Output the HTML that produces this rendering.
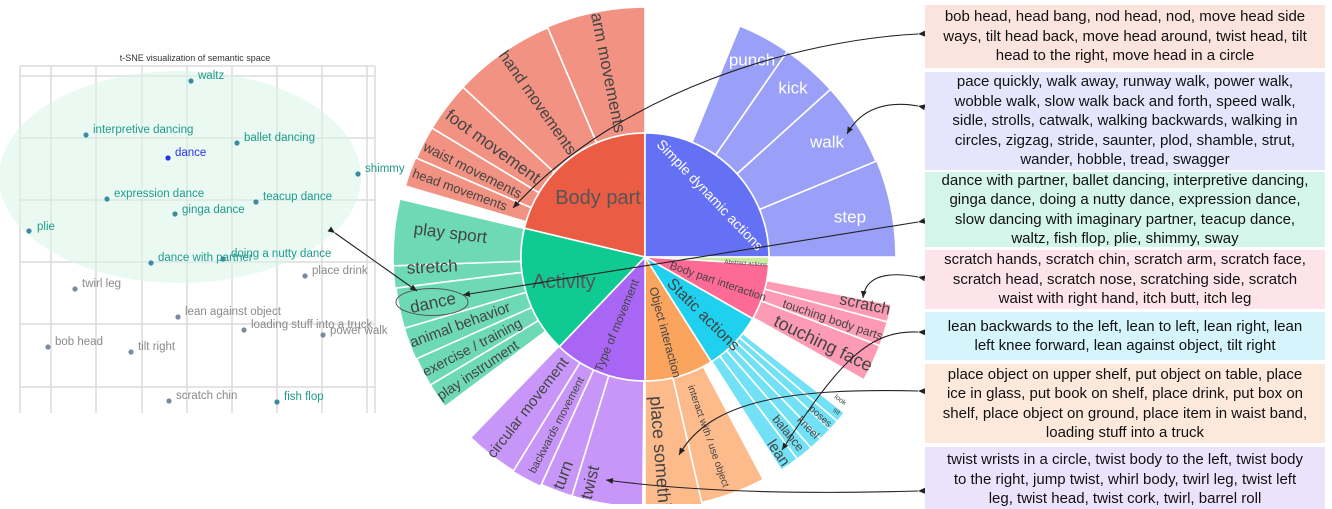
<!DOCTYPE html>
<html><head><meta charset="utf-8">
<style>
html,body{margin:0;padding:0;background:#fff;}
body{width:1332px;height:504px;position:relative;overflow:hidden;font-family:"Liberation Sans",sans-serif;}
.box{position:absolute;left:925px;width:400px;text-align:center;font-size:15px;line-height:19.5px;color:#111;display:flex;align-items:center;justify-content:center;}
svg{position:absolute;left:0;top:0;}
</style></head><body>
<svg width="1332" height="504" viewBox="0 0 1332 504" font-family="Liberation Sans, sans-serif">
<defs>
<marker id="ah" markerWidth="8" markerHeight="8" refX="7" refY="4" orient="auto" markerUnits="userSpaceOnUse">
<path d="M0,1 L7,4 L0,7 z" fill="#222"/></marker>
</defs>
<!-- scatter -->
<text x="195" y="61" font-size="9" fill="#333" text-anchor="middle">t-SNE visualization of semantic space</text>
<g stroke="#dcdcdc" stroke-width="1.5">
<line x1="20" y1="66" x2="375" y2="66"/>
<line x1="20" y1="66" x2="20" y2="413"/>
<line x1="375" y1="66" x2="375" y2="413"/>
<line x1="51" y1="66" x2="51" y2="413"/><line x1="96" y1="66" x2="96" y2="413"/>
<line x1="142" y1="66" x2="142" y2="413"/><line x1="187" y1="66" x2="187" y2="413"/>
<line x1="232" y1="66" x2="232" y2="413"/><line x1="277" y1="66" x2="277" y2="413"/>
<line x1="322" y1="66" x2="322" y2="413"/><line x1="367" y1="66" x2="367" y2="413"/>
<line x1="20" y1="76" x2="375" y2="76"/><line x1="20" y1="138" x2="375" y2="138"/>
<line x1="20" y1="200" x2="375" y2="200"/><line x1="20" y1="262" x2="375" y2="262"/>
<line x1="20" y1="324" x2="375" y2="324"/><line x1="20" y1="387" x2="375" y2="387"/>
</g>
<ellipse cx="180" cy="177" rx="181" ry="106" fill="#d8f5ea" opacity="0.55"/>
<g font-size="11.5" fill="#1f9a8c">
<circle cx="191" cy="81" r="2.6" fill="#3a8c9e"/><text x="198" y="79">waltz</text>
<circle cx="86" cy="135" r="2.6" fill="#3a8c9e"/><text x="93" y="133">interpretive dancing</text>
<circle cx="237" cy="143" r="2.6" fill="#3a8c9e"/><text x="244" y="141">ballet dancing</text>
<circle cx="168" cy="158" r="2.6" fill="#2233ee"/><text x="175" y="156" fill="#2a2ff0">dance</text>
<circle cx="358" cy="174" r="2.6" fill="#3a8c9e"/><text x="365" y="172">shimmy</text>
<circle cx="107" cy="199" r="2.6" fill="#3a8c9e"/><text x="114" y="197">expression dance</text>
<circle cx="256" cy="202" r="2.6" fill="#3a8c9e"/><text x="263" y="200">teacup dance</text>
<circle cx="175" cy="214" r="2.6" fill="#3a8c9e"/><text x="182" y="213">ginga dance</text>
<circle cx="29" cy="231" r="2.6" fill="#3a8c9e"/><text x="37" y="230">plie</text>
<circle cx="151" cy="263" r="2.6" fill="#3a8c9e"/><text x="158" y="261">dance with partner</text>
<circle cx="223" cy="259" r="2.6" fill="#3a8c9e"/><text x="231" y="257">doing a nutty dance</text>
<circle cx="277" cy="402" r="2.6" fill="#3a8c9e"/><text x="284" y="400">fish flop</text>
</g>
<g font-size="11.5" fill="#8a8a8a">
<circle cx="305" cy="276" r="2.6" fill="#7a8aa3"/><text x="312" y="274">place drink</text>
<circle cx="75" cy="289" r="2.6" fill="#7a8aa3"/><text x="82" y="287">twirl leg</text>
<circle cx="178" cy="317" r="2.6" fill="#7a8aa3"/><text x="185" y="315">lean against object</text>
<circle cx="244" cy="330" r="2.6" fill="#7a8aa3"/><text x="251" y="328">loading stuff into a truck</text>
<circle cx="323" cy="335" r="2.6" fill="#7a8aa3"/><text x="330" y="334">power walk</text>
<circle cx="48" cy="347" r="2.6" fill="#7a8aa3"/><text x="55" y="345">bob head</text>
<circle cx="131" cy="352" r="2.6" fill="#7a8aa3"/><text x="138" y="350">tilt right</text>
<circle cx="169" cy="401" r="2.6" fill="#7a8aa3"/><text x="176" y="399">scratch chin</text>
</g>
<rect x="378" y="0" width="10" height="504" fill="#fff" opacity="0"/>
<g id="wedges"></g>
<!-- labels -->
<g fill="#444">
<g transform="translate(645,257)">
<text transform="rotate(258.7) translate(188,0) rotate(180)" font-size="17" text-anchor="middle" dominant-baseline="central">arm movements</text>
<text transform="rotate(235) translate(188,0) rotate(180)" font-size="16" text-anchor="middle" dominant-baseline="central">hand movements</text>
<text transform="rotate(216) translate(188,0) rotate(180)" font-size="17" text-anchor="middle" dominant-baseline="central">foot movement</text>
<text transform="rotate(206.8) translate(193,0) rotate(180)" font-size="14" text-anchor="middle" dominant-baseline="central">waist movements</text>
<text transform="rotate(200) translate(197,0) rotate(180)" font-size="13" text-anchor="middle" dominant-baseline="central">head movements</text>
<text transform="rotate(187) translate(196,0) rotate(180)" font-size="17" text-anchor="middle" dominant-baseline="central">play sport</text>
<text transform="rotate(177.3) translate(213,0) rotate(180)" font-size="17" text-anchor="middle" dominant-baseline="central">stretch</text>
<text transform="rotate(167.8) translate(217,0) rotate(180)" font-size="17" text-anchor="middle" dominant-baseline="central">dance</text>
<text transform="rotate(159.8) translate(197,0) rotate(180)" font-size="15" text-anchor="middle" dominant-baseline="central">animal behavior</text>
<text transform="rotate(152.5) translate(195,0) rotate(180)" font-size="14" text-anchor="middle" dominant-baseline="central">exercise / training</text>
<text transform="rotate(146) translate(202,0) rotate(180)" font-size="14" text-anchor="middle" dominant-baseline="central">play instrument</text>
<text transform="rotate(127.8) translate(191,0) rotate(180)" font-size="15" text-anchor="middle" dominant-baseline="central">circular movement</text>
<text transform="rotate(117.6) translate(190,0) rotate(180)" font-size="11" text-anchor="middle" dominant-baseline="central">backwards movement</text>
<text transform="rotate(110.6) translate(233,0) rotate(180)" font-size="17" text-anchor="middle" dominant-baseline="central">turn</text>
<text transform="rotate(103.7) translate(232,0) rotate(180)" font-size="17" text-anchor="middle" dominant-baseline="central">twist</text>
<text transform="rotate(85.5) translate(205,0)" font-size="18" text-anchor="middle" dominant-baseline="central">place something</text>
<text transform="rotate(70.7) translate(190,0)" font-size="10" text-anchor="middle" dominant-baseline="central">interact with / use object</text>
<text transform="rotate(36.3) translate(242,0)" font-size="7" text-anchor="middle" dominant-baseline="central">look</text>
<text transform="rotate(39) translate(246,0)" font-size="7" text-anchor="middle" dominant-baseline="central">sit</text>
<text transform="rotate(42.4) translate(237,0)" font-size="10" text-anchor="middle" dominant-baseline="central">poses</text>
<text transform="rotate(46.4) translate(236,0)" font-size="11" text-anchor="middle" dominant-baseline="central">kneel</text>
<text transform="rotate(50.9) translate(227,0)" font-size="12" text-anchor="middle" dominant-baseline="central">balance</text>
<text transform="rotate(55.8) translate(237,0)" font-size="15" text-anchor="middle" dominant-baseline="central">lean</text>
<text transform="rotate(12.3) translate(225,0)" font-size="16" text-anchor="middle" dominant-baseline="central">scratch</text>
<text transform="rotate(18.5) translate(198,0)" font-size="12" text-anchor="middle" dominant-baseline="central">touching body parts</text>
<text transform="rotate(25.8) translate(198,0)" font-size="18" text-anchor="middle" dominant-baseline="central">touching face</text>
<text transform="rotate(112.4) translate(74,0) rotate(180)" font-size="12" text-anchor="middle" dominant-baseline="central">Type of movement</text>
<text transform="rotate(75) translate(78,0)" font-size="12" text-anchor="middle" dominant-baseline="central">Object interaction</text>
<text transform="rotate(45) translate(82,0)" font-size="16" text-anchor="middle" dominant-baseline="central">Static actions</text>
<text transform="rotate(18.9) translate(77,0)" font-size="11" text-anchor="middle" dominant-baseline="central">Body part interaction</text>
<text transform="rotate(4) translate(101,0)" font-size="6" text-anchor="middle" dominant-baseline="central">Abstract actions</text>
<text transform="rotate(-43.6) translate(90,0) rotate(90)" font-size="14" fill="#fff" text-anchor="middle" dominant-baseline="central">Simple dynamic actions</text>
</g>
<text x="598" y="198" font-size="20" text-anchor="middle" dominant-baseline="central" fill="#555">Body part</text>
<text x="564" y="282" font-size="20" text-anchor="middle" dominant-baseline="central" fill="#555">Activity</text>
<g fill="#fff" font-size="17" text-anchor="middle" dominant-baseline="central">
<text x="752" y="60">punch</text><text x="793" y="88">kick</text>
<text x="827" y="142">walk</text><text x="850" y="217">step</text>
</g>
</g>
<!-- annotations -->
<ellipse cx="432" cy="302" rx="36" ry="13.5" fill="none" stroke="#555" stroke-width="1"/>
<g fill="none" stroke="#222" stroke-width="1.1">
<path d="M918,34 C800,40 620,90 513,208" marker-start="url(#ah)" marker-end="url(#ah)"/>
<path d="M918,106 C885,100 860,110 847,134" marker-start="url(#ah)" marker-end="url(#ah)"/>
<path d="M918,222 L463,295" marker-start="url(#ah)" marker-end="url(#ah)"/>
<path d="M335,233 L417,291" marker-start="url(#ah)" marker-end="url(#ah)"/>
<path d="M918,277 C880,270 865,280 863,298" marker-start="url(#ah)" marker-end="url(#ah)"/>
<path d="M918,332 C870,330 840,360 782,450" marker-start="url(#ah)" marker-end="url(#ah)"/>
<path d="M918,391 C790,388 710,400 679,455" marker-start="url(#ah)" marker-end="url(#ah)"/>
<path d="M918,491 C780,495 680,490 606,480" marker-start="url(#ah)" marker-end="url(#ah)"/>
</g>
</svg>
<div class="box" style="top:5px;height:63px;background:#fbe3de;">bob head, head bang, nod head, nod, move head side<br>ways, tilt head back, move head around, twist head, tilt<br>head to the right, move head in a circle</div>
<div class="box" style="top:72px;height:98px;background:#e5e6fd;">pace quickly, walk away, runway walk, power walk,<br>wobble walk, slow walk back and forth, speed walk,<br>sidle, strolls, catwalk, walking backwards, walking in<br>circles, zigzag, stride, saunter, plod, shamble, strut,<br>wander, hobble, tread, swagger</div>
<div class="box" style="top:172px;height:75px;background:#d4f5ea;">dance with partner, ballet dancing, interpretive dancing,<br>ginga dance, doing a nutty dance, expression dance,<br>slow dancing with imaginary partner, teacup dance,<br>waltz, fish flop, plie, shimmy, sway</div>
<div class="box" style="top:250px;height:59px;background:#fde3ea;">scratch hands, scratch chin, scratch arm, scratch face,<br>scratch head, scratch nose, scratching side, scratch<br>waist with right hand, itch butt, itch leg</div>
<div class="box" style="top:312px;height:48px;background:#d5f4fb;">lean backwards to the left, lean to left, lean right, lean<br>left knee forward, lean against object, tilt right</div>
<div class="box" style="top:364px;height:79px;background:#fde9dc;">place object on upper shelf, put object on table, place<br>ice in glass, put book on shelf, place drink, put box on<br>shelf, place object on ground, place item in waist band,<br>loading stuff into a truck</div>
<div class="box" style="top:447px;height:62px;background:#ebe3fb;align-items:flex-start;padding-top:3px;box-sizing:border-box;">twist wrists in a circle, twist body to the left, twist body<br>to the right, jump twist, whirl body, twirl leg, twist left<br>leg, twist head, twist cork, twirl, barrel roll</div>
<script>
(function(){
var cx=645,cy=257,g=document.getElementById('wedges');
function pt(r,a){var t=(a-90)*Math.PI/180;return [cx+r*Math.cos(t),cy+r*Math.sin(t)];}
function w(r0,r1,a0,a1,f){
 var p0=pt(r1,a0),p1=pt(r1,a1),large=(a1-a0)>180?1:0,d;
 if(r0<=0){d='M'+cx+','+cy+' L'+p0+' A'+r1+','+r1+' 0 '+large+' 1 '+p1+' Z';}
 else{var q1=pt(r0,a1),q0=pt(r0,a0);
 d='M'+q0+' L'+p0+' A'+r1+','+r1+' 0 '+large+' 1 '+p1+' L'+q1+' A'+r0+','+r0+' 0 '+large+' 0 '+q0+' Z';}
 var e=document.createElementNS('http://www.w3.org/2000/svg','path');
 e.setAttribute('d',d);e.setAttribute('fill',f);e.setAttribute('stroke','#fff');e.setAttribute('stroke-width','1.6');
 g.appendChild(e);}
var R0=124;
// outer ring
var bp='#f29282';
w(R0,250,337,360,bp);w(R0,249,313,337,bp);w(R0,249,301.2,313,bp);w(R0,249,293.4,301.2,bp);w(R0,250,286.5,293.4,bp);
var sd='#9aa0f8';
w(R0,250,22.3,34.7,sd);w(R0,250,34.7,47.9,sd);w(R0,250,47.9,67.5,sd);w(R0,251,67.5,90,sd);
var bi='#fd9bb4';
w(R0,251,100.9,105,bi);w(R0,251,105,110.7,bi);w(R0,251,110.7,119.3,bi);
var st='#72e1f5';
w(R0,253,128,130.5,st);w(R0,253,130.5,133,st);w(R0,253,133,136,st);w(R0,253,136,139,st);w(R0,253,139,143,st);w(R0,253,143,147.4,st);
var oi='#fdbb8c';
w(R0,252,152,167,oi);w(R0,275,167,180,oi);
var tm='#c896f8';
w(R0,250,180.5,197,tm);w(R0,250,197,204.5,tm);w(R0,252,204.5,211.6,tm);w(R0,251,211.6,224,tm);
var ac='#6ed9b5';
w(R0,250,233.2,239.2,ac);w(R0,250,239.2,246,ac);w(R0,251,246,253.5,ac);w(R0,251,253.5,262.9,ac);w(R0,252,262.9,268,ac);w(R0,252,268,283.3,ac);
// inner ring
w(0,R0,283.4,360,'#eb5c44');
w(0,R0,0,90,'#6571f5');
w(0,R0,90,93.5,'#c9ee9f');
w(0,R0,93.5,119.8,'#fd6a95');
w(0,R0,119.8,147.7,'#1fd1ef');
w(0,R0,147.7,180,'#fba45e');
w(0,R0,180,223.7,'#a966f4');
w(0,R0,223.7,283.4,'#0fca92');
})();
</script>
</body></html>
